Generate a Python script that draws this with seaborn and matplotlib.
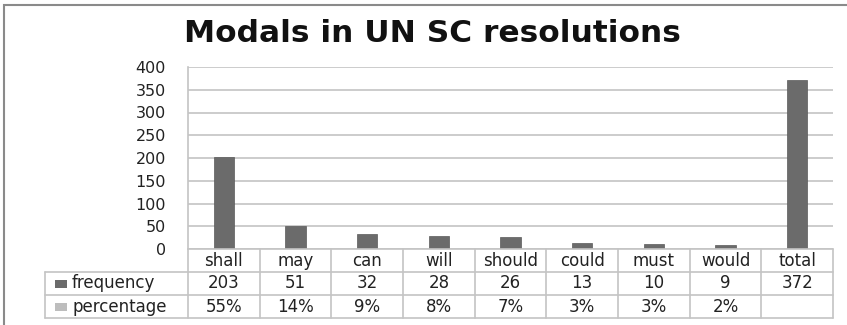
import matplotlib
matplotlib.use("Agg")
import matplotlib.pyplot as plt
import seaborn as sns
import pandas as pd
from matplotlib.patches import Rectangle

# ---- data ----
categories = ["shall", "may", "can", "will", "should", "could", "must", "would", "total"]
frequency = [203, 51, 32, 28, 26, 13, 10, 9, 372]
percentage = ["55%", "14%", "9%", "8%", "7%", "3%", "3%", "2%", ""]
row_labels = ["frequency", "percentage"]
yticks = [0, 50, 100, 150, 200, 250, 300, 350, 400]
title = "Modals in UN SC resolutions"

sns.set_theme(style="white")
plt.rcParams['font.family'] = ['DejaVu Sans']

W, H = 847, 325
fig = plt.figure(figsize=(W / 100, H / 100), dpi=100)
fig.patch.set_facecolor("white")

ax = fig.add_axes([188 / W, 1 - 249 / H, (833 - 188) / W, (249 - 67) / H])
df = pd.DataFrame({"modal": categories, "frequency": frequency})
sns.barplot(data=df, x="modal", y="frequency", color="#6b6b6b", width=0.28,
            saturation=1, ax=ax, edgecolor="#5a5a5a", linewidth=0.5)
ax.set_xlim(-0.5, len(categories) - 0.5)
ax.set_ylim(0, 400)
ax.set_yticks(yticks)
ax.set_yticklabels([str(v) for v in yticks], fontsize=11.5, color="#222222")
ax.yaxis.grid(True, color="#c4c4c4", lw=1.2)
ax.set_axisbelow(True)
for s in ["top", "right", "bottom"]:
    ax.spines[s].set_visible(False)
ax.spines["left"].set_color("#c4c4c4")
ax.spines["left"].set_linewidth(1.2)
ax.set_xticks([])
ax.set_xlabel("")
ax.set_ylabel("")
ax.tick_params(axis="y", length=0, pad=16)

# ---- data table below the axes ----
trans = ax.get_xaxis_transform()
axh = 249 - 67
y_rows = [0, -23 / axh, -46 / axh, -69 / axh]
n = len(categories)
unit = (833 - 188) / n
xl = -0.5 - (188 - 45) / unit
lc = "#c4c4c4"
kw = dict(transform=trans, clip_on=False, color=lc, lw=1.2)
ax.plot([-0.5, n - 0.5], [0, 0], **kw)
for yv in y_rows[1:]:
    ax.plot([xl, n - 0.5], [yv, yv], **kw)
for i in range(n + 1):
    ax.plot([i - 0.5, i - 0.5], [0, y_rows[-1]], **kw)
ax.plot([xl, xl], [y_rows[1], y_rows[-1]], **kw)

fs = 12
tc = "#222222"
for i, c in enumerate(categories):
    ax.text(i, (y_rows[0] + y_rows[1]) / 2, c, transform=trans, ha="center", va="center",
            fontsize=fs, color=tc)
    ax.text(i, (y_rows[1] + y_rows[2]) / 2, str(frequency[i]), transform=trans,
            ha="center", va="center", fontsize=fs, color=tc)
    ax.text(i, (y_rows[2] + y_rows[3]) / 2, percentage[i], transform=trans,
            ha="center", va="center", fontsize=fs, color=tc)

xsq = -0.5 - (188 - 55) / unit
xtxt = -0.5 - (188 - 72) / unit
sq_w = 12 / unit
sq_h = 8 / axh
for r, (lab, col) in enumerate(zip(row_labels, ["#6b6b6b", "#bdbdbd"])):
    yc = (y_rows[r + 1] + y_rows[r + 2]) / 2
    ax.add_patch(Rectangle((xsq, yc - sq_h / 2), sq_w, sq_h, transform=trans,
                           clip_on=False, facecolor=col, edgecolor="none"))
    ax.text(xtxt, yc, lab, transform=trans, ha="left", va="center",
            fontsize=fs, color=tc)

fig.text(432 / W, 1 - 33 / H, title, ha="center", va="center",
         fontsize=22.5, fontweight="bold", color="#111111")

fig.add_artist(Rectangle((4 / W, -0.2), 1.2, 1.2 - 5 / H, transform=fig.transFigure,
                         fill=False, edgecolor="#8a8a8a", lw=1.5))

fig.savefig("out.png", dpi=100, facecolor="white")
